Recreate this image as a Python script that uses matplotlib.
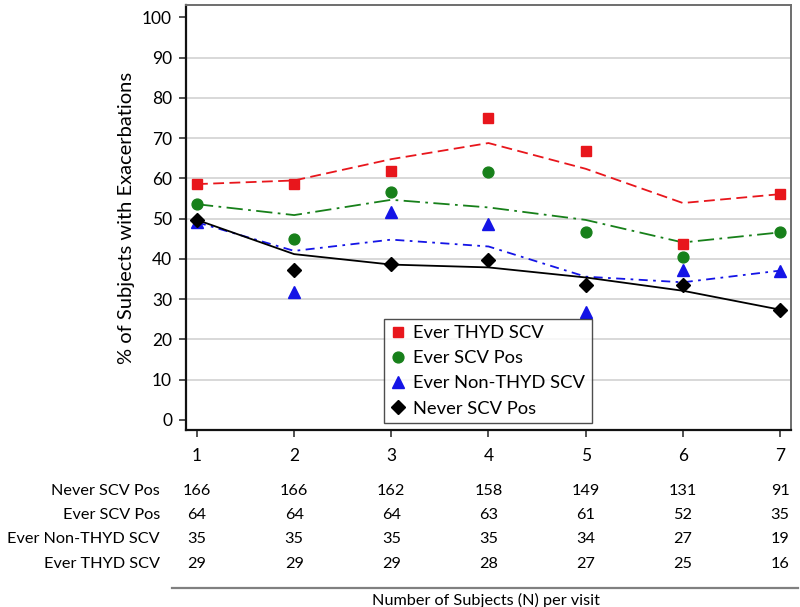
import matplotlib
matplotlib.use("Agg")
import matplotlib.pyplot as plt
import matplotlib.transforms as mtransforms
from matplotlib.lines import Line2D

plt.rcParams['font.family'] = ['Lato', 'DejaVu Sans']

visits = [1, 2, 3, 4, 5, 6, 7]

# observed points
thyd_pts = [58.6, 58.6, 61.9, 75.0, 66.7, 43.8, 56.1]
scvpos_pts = [53.6, 44.9, 56.7, 61.7, 46.6, 40.5, 46.6]
nonthyd_pts = [49.1, 31.7, 51.7, 48.8, 26.7, 37.2, 37.1]
never_pts = [49.7, 37.2, 38.7, 39.7, 33.5, 33.5, 27.4]

# fitted lines
thyd_fit = [58.6, 59.5, 64.8, 68.8, 62.4, 53.9, 56.1]
scvpos_fit = [53.6, 50.9, 54.7, 52.8, 49.7, 44.1, 46.6]
nonthyd_fit = [49.1, 42.0, 44.8, 43.1, 35.6, 34.2, 37.1]
never_fit = [49.7, 41.2, 38.6, 37.9, 35.4, 32.1, 27.4]

row_labels = ["Never SCV Pos", "Ever SCV Pos", "Ever Non-THYD SCV", "Ever THYD SCV"]
n_never = [166, 166, 162, 158, 149, 131, 91]
n_scvpos = [64, 64, 64, 63, 61, 52, 35]
n_nonthyd = [35, 35, 35, 35, 34, 27, 19]
n_thyd = [29, 29, 29, 28, 27, 25, 16]

W, H = 800, 607
fig = plt.figure(figsize=(W / 100, H / 100), dpi=100)
ax = fig.add_axes([186 / W, 1 - 430 / H, 605 / W, 425 / H])

red = '#e8161c'
green = '#17801a'
blue = '#1414e6'
black = '#000000'

ax.set_xlim(0.887, 7.113)
ax.set_ylim(-2.5, 103.1)
ax.set_yticks(range(0, 101, 10))
ax.set_xticks(visits)
for v in range(10, 91, 10):
    ax.axhline(v, color='#d8d8d8', lw=1.4, zorder=0)

ax.plot(visits, thyd_fit, color=red, lw=1.3, dashes=(6, 3), zorder=2)
ax.plot(visits, scvpos_fit, color=green, lw=1.3, dashes=(9, 3, 1.5, 3), zorder=2)
ax.plot(visits, nonthyd_fit, color=blue, lw=1.3, dashes=(5, 3, 1.5, 3), zorder=2)
ax.plot(visits, never_fit, color=black, lw=1.3, zorder=2)

ax.plot(visits, thyd_pts, ls='none', marker='s', ms=7.8, color=red, label='Ever THYD SCV', zorder=3)
ax.plot(visits, scvpos_pts, ls='none', marker='o', ms=7.8, color=green, label='Ever SCV Pos', zorder=3)
ax.plot(visits, nonthyd_pts, ls='none', marker='^', ms=8.3, color=blue, label='Ever Non-THYD SCV', zorder=3)
ax.plot(visits, never_pts, ls='none', marker='D', ms=7.2, color=black, label='Never SCV Pos', zorder=3)

for s in ['left', 'bottom']:
    ax.spines[s].set_color('#111111')
    ax.spines[s].set_linewidth(1.6)
for s in ['top', 'right']:
    ax.spines[s].set_color('#6e6e6e')
    ax.spines[s].set_linewidth(1.4)

ax.tick_params(axis='both', direction='out', length=5, width=1.2, color='#333333',
               labelsize=12.5, pad=5)
ax.tick_params(axis='x', pad=8)
ax.set_ylabel('% of Subjects with Exacerbations', fontsize=14.5, labelpad=5)

leg = ax.legend(loc='lower left', bbox_to_anchor=(0.327, 0.0165), frameon=True,
                fancybox=False, edgecolor='#222222', fontsize=13.2,
                handlelength=0.8, handletextpad=0.45, labelspacing=0.5,
                borderpad=0.35, borderaxespad=0)
leg.get_frame().set_linewidth(1.0)

# table of N below
trans = mtransforms.blended_transform_factory(ax.transData, fig.transFigure)
rows = [n_never, n_scvpos, n_nonthyd, n_thyd]
row_y = [1 - 491 / H, 1 - 515 / H, 1 - 539 / H, 1 - 564 / H]
for lab, vals, yy in zip(row_labels, rows, row_y):
    fig.text(160 / W, yy, lab, ha='right', va='center', fontsize=11.7)
    for xv, n in zip(visits, vals):
        ax.text(xv, yy, str(n), transform=trans, ha='center', va='center',
                fontsize=11.7, clip_on=False)

fig.add_artist(Line2D([172 / W, 798 / W], [1 - 588 / H, 1 - 588 / H],
                      transform=fig.transFigure, color='#808080', lw=1.6))
fig.text(486 / W, 1 - 600 / H, 'Number of Subjects (N) per visit', ha='center',
         va='center', fontsize=11.7)

fig.savefig('out.png', dpi=100)
